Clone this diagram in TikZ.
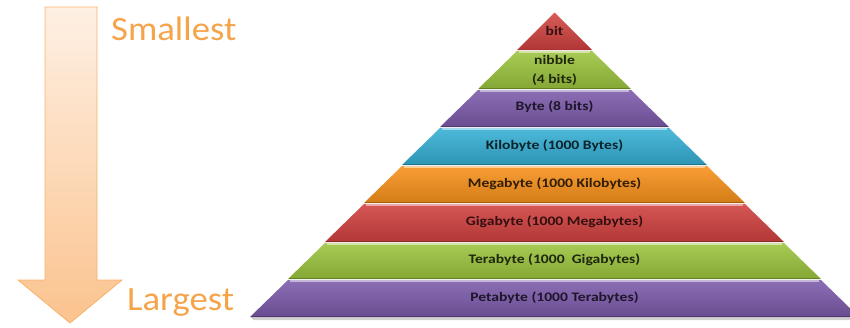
\documentclass[tikz,border=0pt]{standalone}
\usepackage{fontspec}
\usepackage{graphicx}
\setmainfont{Carlito}
\definecolor{tRed}{HTML}{D0403E}
\definecolor{tGreen}{HTML}{9CC43E}
\definecolor{tPurple}{HTML}{7C5AAA}
\definecolor{tCyan}{HTML}{35AFD4}
\definecolor{tOrange}{HTML}{F8911A}
\definecolor{arrowTop}{HTML}{FEF0E4}
\definecolor{arrowBot}{HTML}{FBC38E}
\definecolor{arrowLine}{HTML}{F8B26C}
\definecolor{capText}{HTML}{F5A44A}
\newcommand{\widetext}[2]{\scalebox{#1}[1]{#2}}
\tikzset{
  lbl/.style={font=\fontsize{13}{15}\selectfont\bfseries, inner sep=0pt},
  endlabel/.style={font=\fontsize{34}{36}\selectfont, text=capText, inner sep=0pt, anchor=base west},
}
\begin{document}
\begin{tikzpicture}[x=1pt,y=-1pt]
\useasboundingbox (0,0) rectangle (850,327);

% Down arrow from smallest to largest
\shade[top color=arrowTop, bottom color=arrowBot, draw=arrowLine, line width=0.8pt]
  (45,7) -- (97,7) -- (97,280) -- (122,280) -- (70,323) -- (18,280) -- (45,280) -- cycle;
\node[endlabel] (small) at (111,40) {\widetext{1.08}{Smallest}};
\node[endlabel] (large) at (127,310) {\widetext{1.08}{Largest}};

% Soft shadow under the pyramid
\fill[black!18] (251,317) -- (850,317) -- (850,320) -- (253,320) -- cycle;

% Apex triangle
\shade[top color=tRed!85!white, bottom color=tRed!85!black]
  (554.5,12.5) -- (592,50) -- (517,50) -- cycle;
\draw[tRed!80!black, line width=0.8pt] (518,49.5) -- (591,49.5);

% Trapezoid tiers: top y / bottom y / colour
\foreach \t/\b/\c in {50/89/tGreen, 89/127/tPurple, 127/165/tCyan, 165/203/tOrange,
                      203/242/tRed, 242/279/tGreen, 279/317/tPurple} {
  \shade[top color=\c!88!white, bottom color=\c!85!black]
    ({567-\t},{\t+1}) -- ({542+\t},{\t+1}) -- ({542+\b},\b) -- ({567-\b},\b) -- cycle;
  \draw[\c!45!white, line width=1.2pt] ({569-\t},{\t+2}) -- ({540+\t},{\t+2});
  \draw[\c!65!black, line width=0.8pt] ({568-\b},{\b-0.5}) -- ({541+\b},{\b-0.5});
}

% Tier labels
\node[lbl, text=tRed!25!black]    (bit)  at (554.5,31)  {\widetext{1.2}{bit}};
\node[lbl, text=tGreen!20!black]  (nib1) at (554.5,60)  {\widetext{1.2}{nibble}};
\node[lbl, text=tGreen!20!black]  (nib2) at (554.5,80)  {\widetext{1.2}{(4 bits)}};
\node[lbl, text=tPurple!25!black] (byte) at (554.5,107) {\widetext{1.2}{Byte (8 bits)}};
\node[lbl, text=tCyan!20!black]   (kb)   at (554.5,146) {\widetext{1.2}{Kilobyte (1000 Bytes)}};
\node[lbl, text=tOrange!20!black] (mb)   at (554.5,184) {\widetext{1.2}{Megabyte (1000 Kilobytes)}};
\node[lbl, text=tRed!25!black]    (gb)   at (554.5,222) {\widetext{1.2}{Gigabyte (1000 Megabytes)}};
\node[lbl, text=tGreen!20!black]  (tb)   at (554.5,260) {\widetext{1.2}{Terabyte (1000 \ Gigabytes)}};
\node[lbl, text=tPurple!25!black] (pb)   at (554.5,298) {\widetext{1.2}{Petabyte (1000 Terabytes)}};
\end{tikzpicture}
\end{document}
